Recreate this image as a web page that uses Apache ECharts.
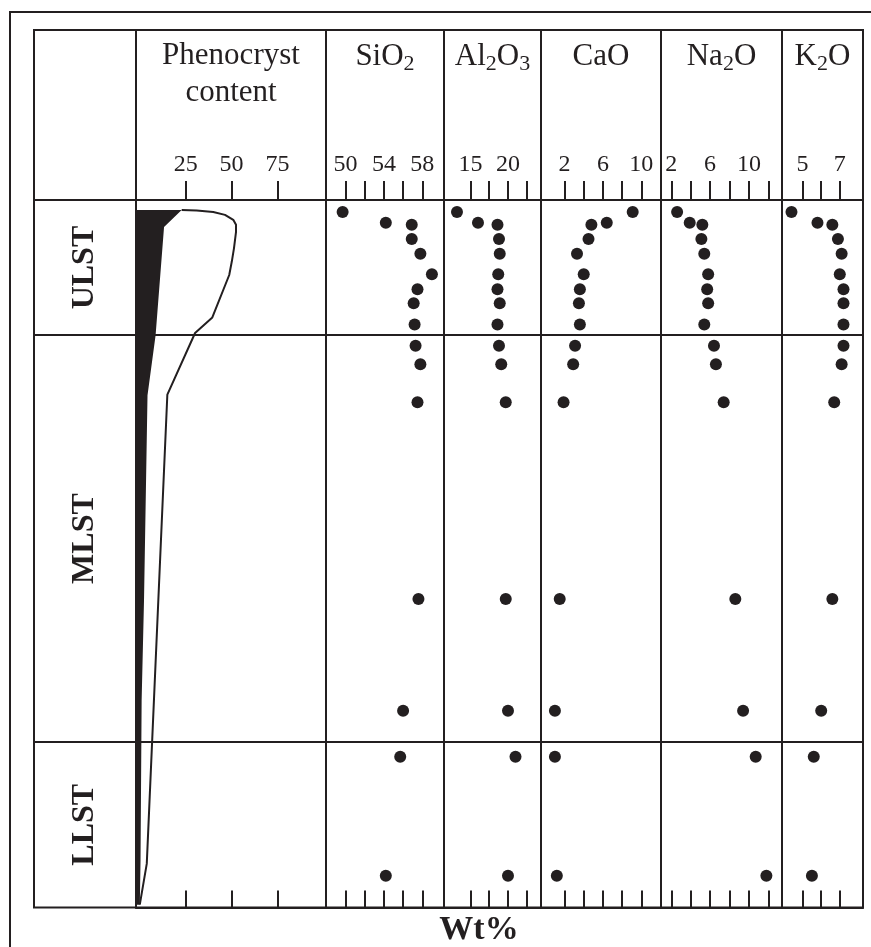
<!DOCTYPE html>
<html>
<head>
<meta charset="utf-8">
<script src="https://cdn.jsdelivr.net/npm/echarts@6/dist/echarts.min.js"></script>
<style>
html, body {margin: 0; padding: 0; background: #fff;}
#chart {width: 871px; height: 947px;}
</style>
</head>
<body>
<div id="chart"></div>
<script>
// stratigraphic units, boundaries in relative height (0 = top, 100 = base)
var units = ['ULST', 'MLST', 'LLST'];
var unitBounds = [0, 19.1, 76.6, 100];

// sample positions, shared by all oxides
var depth = [1.7, 3.2, 3.5, 5.5, 7.6, 10.5, 12.6, 14.6, 17.6, 20.6, 23.2, 28.6, 56.4, 72.2, 78.7, 95.5];
var sio2  = [49.7, 54.2, 56.9, 56.9, 57.8, 59.0, 57.5, 57.1, 57.2, 57.3, 57.8, 57.5, 57.6, 56.0, 55.7, 54.2];
var al2o3 = [13.2, 16.0, 18.6, 18.8, 18.9, 18.7, 18.6, 18.9, 18.6, 18.8, 19.1, 19.7, 19.7, 20.0, 21.0, 20.0];
var cao   = [9.1, 6.4, 4.8, 4.5, 3.3, 4.0, 3.6, 3.5, 3.6, 3.1, 2.9, 1.9, 1.5, 1.0, 1.0, 1.2];
var na2o  = [2.6, 3.9, 5.2, 5.1, 5.4, 5.8, 5.7, 5.8, 5.4, 6.4, 6.6, 7.4, 8.6, 9.4, 10.7, 11.8];
var k2o   = [4.4, 5.8, 6.6, 6.9, 7.1, 7.0, 7.2, 7.2, 7.2, 7.2, 7.1, 6.7, 6.6, 6.0, 5.6, 5.5];

// phenocryst content: total envelope and the black (dark mineral) part
var phenoTotalDepth = [1.4, 1.5, 1.7, 2.1, 2.8, 3.5, 4.5, 6.8, 8.7, 10.6, 16.6, 18.8, 27.5, 93.8, 99.6];
var phenoTotal      = [22.8, 31.0, 40.0, 46.4, 50.9, 52.4, 52.4, 51.3, 50.1, 48.7, 39.5, 30.1, 15.0, 3.8, 0];
var phenoBlackDepth = [1.4, 3.8, 19.1, 27.6, 56.5, 70.7, 93.3, 99.6];
var phenoBlack      = [22.8, 13.2, 8.6, 4.2, 2.3, 1.0, 0.4, 0];

// ticks and labels
var phenoTicks = [25, 50, 75],              phenoLabels = [25, 50, 75];
var sio2Ticks  = [50, 52, 54, 56, 58],      sio2Labels  = [50, 54, 58];
var al2o3Ticks = [15, 17.5, 20, 22.5],      al2o3Labels = [15, 20];
var caoTicks   = [2, 4, 6, 8, 10],          caoLabels   = [2, 6, 10];
var na2oTicks  = [2, 4, 6, 8, 10, 12],      na2oLabels  = [2, 6, 10];
var k2oTicks   = [5, 6, 7],                 k2oLabels   = [5, 7];

var ink = '#231f20';
var serif = '"Liberation Serif", "Times New Roman", serif';

// column edges (px), header and body
var colX = [34, 136, 326, 444, 541, 661, 782, 863];
var headTop = 30, bodyTop = 200, bodyBottom = 907.5;

var cols = [
    {name: 'Phenocryst\ncontent', min: -2.07, max: 101.4, ticks: phenoTicks, labels: phenoLabels, gap: 89},
    {name: 'SiO{s|2}',       min: 47.97, max: 60.26, ticks: sio2Ticks,  labels: sio2Labels,  gap: 125, data: sio2},
    {name: 'Al{s|2}O{s|3}',  min: 11.47, max: 24.4,  ticks: al2o3Ticks, labels: al2o3Labels, gap: 125, data: al2o3},
    {name: 'CaO',            min: -0.45, max: 12.05, ticks: caoTicks,   labels: caoLabels,   gap: 125, data: cao},
    {name: 'Na{s|2}O',       min: 0.94,  max: 13.41, ticks: na2oTicks,  labels: na2oLabels,  gap: 125, data: na2o},
    {name: 'K{s|2}O',        min: 3.89,  max: 8.25,  ticks: k2oTicks,   labels: k2oLabels,   gap: 125, data: k2o}
];

var grids = [], xAxes = [], yAxes = [], series = [];

function addGrid(i, top, bottom) {
    grids.push({
        left: colX[i], width: colX[i + 1] - colX[i], top: top, height: bottom - top,
        show: true, borderColor: ink, borderWidth: 2, backgroundColor: 'transparent',
        containLabel: false, outerBoundsMode: 'none'
    });
    return grids.length - 1;
}

function depthAxis(g) {
    return {gridIndex: g, type: 'value', inverse: true, min: 0, max: 100, show: false};
}

function boundaryLines() {
    return {
        silent: true, symbol: ['none', 'none'], label: {show: false}, animation: false,
        lineStyle: {color: ink, width: 2, type: 'solid'},
        data: [{yAxis: unitBounds[1]}, {yAxis: unitBounds[2]}]
    };
}

function bottomAxis(g, c) {
    return {
        gridIndex: g, type: 'value', position: 'bottom', min: c.min, max: c.max,
        axisLine: {show: true, onZero: false, lineStyle: {color: ink, width: 2}},
        axisTick: {show: true, inside: true, length: 17, customValues: c.ticks, lineStyle: {color: ink, width: 2}},
        axisLabel: {show: false},
        splitLine: {show: false}
    };
}

function topAxis(g, c) {
    return {
        gridIndex: g, type: 'value', position: 'top', min: c.min, max: c.max,
        name: c.name, nameLocation: 'middle', nameGap: c.gap, nameMoveOverlap: false,
        nameTextStyle: {
            color: ink, fontFamily: serif, fontSize: 31, lineHeight: 37,
            rich: {s: {color: ink, fontFamily: serif, fontSize: 22, lineHeight: 22, verticalAlign: 'bottom'}}
        },
        axisLine: {show: true, onZero: false, lineStyle: {color: ink, width: 2}},
        axisTick: {show: true, inside: false, length: 19, customValues: c.ticks, lineStyle: {color: ink, width: 2}},
        axisLabel: {show: true, customValues: c.labels, margin: 23, color: ink, fontFamily: serif, fontSize: 24},
        splitLine: {show: false}
    };
}

// header cells
for (var h = 0; h < colX.length - 1; h++) {
    var hg = addGrid(h, headTop, bodyTop);
    xAxes.push({gridIndex: hg, type: 'value', min: 0, max: 1, show: false});
    yAxes.push({gridIndex: hg, type: 'value', min: 0, max: 1, show: false});
}

// unit label column
var g0 = addGrid(0, bodyTop, bodyBottom);
xAxes.push({gridIndex: g0, type: 'value', min: 0, max: 1, show: false});
yAxes.push(depthAxis(g0));
series.push({
    type: 'scatter', xAxisIndex: xAxes.length - 1, yAxisIndex: yAxes.length - 1,
    symbolSize: 0, itemStyle: {color: ink, opacity: 1}, silent: true,
    data: units.map(function (u, i) { return [0.5, (unitBounds[i] + unitBounds[i + 1]) / 2, u]; }),
    label: {
        show: true, position: 'inside', rotate: 90, color: ink, opacity: 1,
        textBorderWidth: 0, textShadowBlur: 0,
        fontFamily: serif, fontWeight: 'bold', fontSize: 32,
        formatter: function (p) { return p.data[2]; }
    },
    markLine: boundaryLines()
});

cols.forEach(function (c, k) {
    var g = addGrid(k + 1, bodyTop, bodyBottom);
    xAxes.push(bottomAxis(g, c));
    var xi = xAxes.length - 1;
    xAxes.push(topAxis(g, c));
    yAxes.push(depthAxis(g));
    var yi = yAxes.length - 1;

    if (k === 0) {
        series.push({
            type: 'custom', xAxisIndex: xi, yAxisIndex: yi, silent: true,
            data: phenoBlack.map(function (v, i) { return [v, phenoBlackDepth[i]]; }),
            encode: {x: 0, y: 1},
            renderItem: function (params, api) {
                if (params.dataIndex !== 0) return;
                var pts = phenoBlack.map(function (v, i) { return api.coord([v, phenoBlackDepth[i]]); });
                pts.push(api.coord([c.min, phenoBlackDepth[phenoBlackDepth.length - 1]]));
                pts.push(api.coord([c.min, phenoBlackDepth[0]]));
                return {type: 'polygon', shape: {points: pts}, style: {fill: ink}};
            }
        });
        series.push({
            type: 'line', xAxisIndex: xi, yAxisIndex: yi, silent: true,
            symbol: 'none', showSymbol: false, z: 3,
            lineStyle: {color: ink, width: 2},
            data: phenoTotal.map(function (v, i) { return [v, phenoTotalDepth[i]]; }),
            markLine: boundaryLines()
        });
    } else {
        series.push({
            type: 'scatter', xAxisIndex: xi, yAxisIndex: yi, silent: true,
            symbol: 'circle', symbolSize: 12, itemStyle: {color: ink, opacity: 1},
            data: c.data.map(function (v, i) { return [v, depth[i]]; }),
            markLine: boundaryLines()
        });
    }
});

var chart = echarts.init(document.getElementById('chart'), null, {renderer: 'canvas'});
chart.setOption({
    backgroundColor: '#fff',
    animation: false,
    grid: grids,
    xAxis: xAxes,
    yAxis: yAxes,
    series: series,
    graphic: [
        {type: 'polyline', silent: true, shape: {points: [[10, 950], [10, 12], [875, 12]]},
         style: {stroke: ink, lineWidth: 2, fill: 'none'}},
        {type: 'text', silent: true, x: 479, y: 930,
         style: {text: 'Wt%', fill: ink, font: 'bold 34px "Liberation Serif", serif', align: 'center', verticalAlign: 'middle'}}
    ]
});
</script>
</body>
</html>
